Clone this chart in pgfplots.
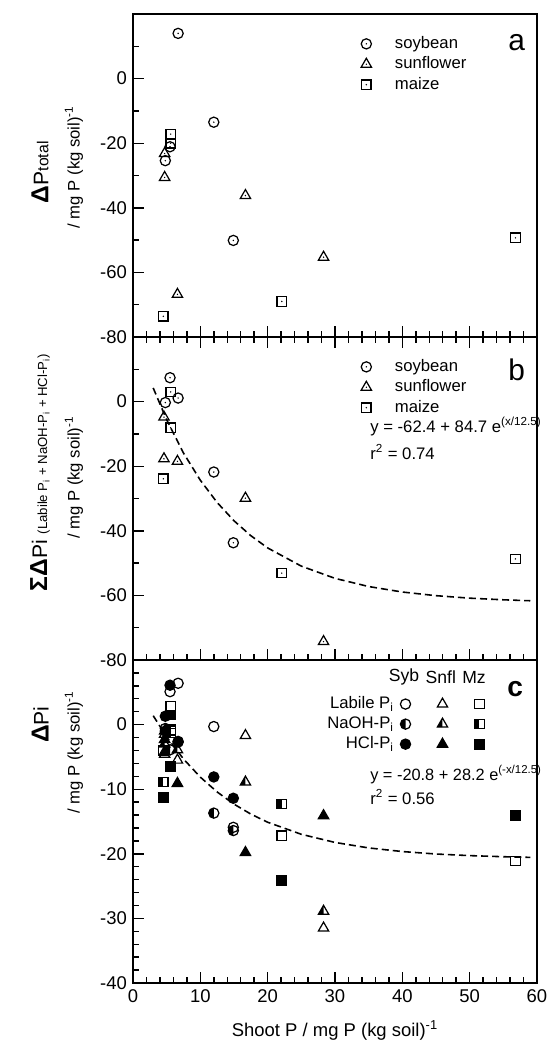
\documentclass[border=0pt]{standalone}
\usepackage{fontspec}
\setmainfont{Liberation Sans}
\usepackage{pgfplots}
\pgfplotsset{compat=1.18}

% open marks with a centre dot (panels a, b)
\pgfdeclareplotmark{dcirc}{%
  \pgfpathcircle{\pgfpointorigin}{\pgfplotmarksize}\pgfusepathqstroke
  \pgfpathcircle{\pgfpointorigin}{0.45pt}\pgfusepathqfill}
\pgfdeclareplotmark{dtri}{%
  \pgfpathmoveto{\pgfqpoint{0pt}{\pgfplotmarksize}}%
  \pgfpathlineto{\pgfqpointpolar{-30}{\pgfplotmarksize}}%
  \pgfpathlineto{\pgfqpointpolar{210}{\pgfplotmarksize}}%
  \pgfpathclose\pgfusepathqstroke
  \pgfpathcircle{\pgfpointorigin}{0.45pt}\pgfusepathqfill}
\pgfdeclareplotmark{dsq}{%
  \pgfpathrectangle{\pgfqpoint{-\pgfplotmarksize}{-\pgfplotmarksize}}{\pgfqpoint{2\pgfplotmarksize}{2\pgfplotmarksize}}\pgfusepathqstroke
  \pgfpathcircle{\pgfpointorigin}{0.45pt}\pgfusepathqfill}
% half filled marks (panel c, NaOH-Pi)
\pgfdeclareplotmark{hcirc}{%
  \pgfpathmoveto{\pgfqpoint{0pt}{\pgfplotmarksize}}%
  \pgfpatharc{90}{270}{\pgfplotmarksize}%
  \pgfpathclose\pgfusepathqfill
  \pgfpathcircle{\pgfpointorigin}{\pgfplotmarksize}\pgfusepathqstroke}
\pgfdeclareplotmark{htri}{%
  \pgfpathmoveto{\pgfqpoint{0pt}{\pgfplotmarksize}}%
  \pgfpathlineto{\pgfqpointpolar{210}{\pgfplotmarksize}}%
  \pgfpathlineto{\pgfqpoint{0pt}{-0.5\pgfplotmarksize}}%
  \pgfpathclose\pgfusepathqfill
  \pgfpathmoveto{\pgfqpoint{0pt}{\pgfplotmarksize}}%
  \pgfpathlineto{\pgfqpointpolar{-30}{\pgfplotmarksize}}%
  \pgfpathlineto{\pgfqpointpolar{210}{\pgfplotmarksize}}%
  \pgfpathclose\pgfusepathqstroke}
\pgfdeclareplotmark{hsq}{%
  \pgfpathrectangle{\pgfqpoint{-\pgfplotmarksize}{-\pgfplotmarksize}}{\pgfqpoint{\pgfplotmarksize}{2\pgfplotmarksize}}\pgfusepathqfill
  \pgfpathrectangle{\pgfqpoint{-\pgfplotmarksize}{-\pgfplotmarksize}}{\pgfqpoint{2\pgfplotmarksize}{2\pgfplotmarksize}}\pgfusepathqstroke}

\pgfplotsset{
  ppanel/.style={
    scale only axis, width=8.08cm, height=6.46cm,
    xmin=0, xmax=60, xtick={0,10,...,60}, minor x tick num=4,
    tick align=inside, ytick pos=left,
    major tick length=0.22cm, minor tick length=0.12cm,
    tick style={black, line width=0.8pt},
    axis line style={black, line width=1.1pt},
    tick label style={font=\fontsize{10.5}{12}\selectfont},
    /pgf/number format/assume math mode=true,
    clip=false,
  },
  pt/.style={only marks, line width=0.7pt, mark options={solid, draw=black, fill=black}},
  fitline/.style={black, line width=0.9pt, dash pattern=on 4pt off 2.3pt, forget plot},
  legab/.style={legend image code/.code={\path (0cm,0cm) (0.86cm,0cm);\draw[##1] plot coordinates {(0.3cm,0cm)};}},
  legc/.style={legend image code/.code={\path (0cm,0cm) (0.68cm,0cm);\draw[##1] plot coordinates {(0.22cm,0cm)};}},
  abstyle/.style={legend style={at={(axis description cs:0.525,0.944)}, anchor=north west, draw=none, fill=none,
    row sep=2.6pt, nodes={inner sep=0pt, text height=7pt, text depth=2pt, font=\fontsize{9.5}{11}\selectfont}},
    legend cell align=left},
}

\begin{document}
\begin{tikzpicture}
% ---- panel a
\begin{axis}[ppanel, abstyle, name=a, at={(0,0)}, anchor=south west,
  ymin=-80, ymax=20, ytick={-80,-60,...,0}, minor ytick={-70,-50,...,10},
  xtick pos=bottom, xticklabels=\empty]
\addplot[pt, mark=dcirc, mark size=2.9pt, legab] coordinates {
  (4.8,-25.4) (5.5,-21.1) (6.7,14.0) (12.0,-13.5) (14.9,-50.1)};
\addlegendentry{soybean}
\addplot[pt, mark=dtri, mark size=3.4pt, legab] coordinates {
  (4.7,-23.2) (4.7,-30.6) (6.6,-66.8) (16.7,-36.2) (28.3,-55.3)};
\addlegendentry{sunflower}
\addplot[pt, mark=dsq, mark size=2.7pt, legab] coordinates {
  (4.5,-73.6) (5.6,-17.2) (5.6,-20.0) (22.1,-69.0) (56.8,-49.3)};
\addlegendentry{maize}
\node[font=\fontsize{17}{20}\selectfont] at (axis description cs:0.95,0.91) {a};
\node[rotate=90] at (axis description cs:-0.23,0.51)
  {\fontsize{14}{16}\selectfont\textbf{Δ}\fontsize{12}{14}\selectfont P\fontsize{9}{10}\selectfont total};
\node[rotate=90, font=\fontsize{9.5}{11}\selectfont] at (axis description cs:-0.146,0.526)
  {/ mg P (kg soil)\textsuperscript{-1}};
\end{axis}
% ---- panel b
\begin{axis}[ppanel, abstyle, name=b, at={(a.south west)}, anchor=north west,
  ymin=-80, ymax=20, ytick={-80,-60,...,0}, minor ytick={-70,-50,...,10},
  xtick pos=both, xticklabels=\empty]
\addplot[pt, mark=dcirc, mark size=2.9pt, legab] coordinates {
  (4.8,-0.3) (5.5,7.4) (6.7,1.1) (12.0,-21.8) (14.9,-43.7)};
\addlegendentry{soybean}
\addplot[pt, mark=dtri, mark size=3.4pt, legab] coordinates {
  (4.6,-4.8) (4.6,-17.7) (6.6,-18.5) (16.7,-29.9) (28.3,-74.3)};
\addlegendentry{sunflower}
\addplot[pt, mark=dsq, mark size=2.7pt, legab] coordinates {
  (4.5,-23.9) (5.6,3.0) (5.6,-8.1) (22.1,-53.1) (56.8,-48.7)};
\addlegendentry{maize}
\addplot[fitline] coordinates {
  (3,4.23) (5,-5.62) (7.5,-15.92) (10,-24.34) (12.5,-31.24) (15,-36.89)
  (17.5,-41.51) (20,-45.30) (25,-50.94) (30,-54.72) (35,-57.25)
  (40,-58.95) (45,-60.08) (50,-60.85) (55,-61.36) (59,-61.65)};
\node[font=\fontsize{17}{20}\selectfont] at (axis description cs:0.95,0.898) {b};
\node[anchor=west, font=\fontsize{9.5}{11}\selectfont] at (axis description cs:0.572,0.722)
  {y = -62.4 + 84.7 e\textsuperscript{(x/12.5)}};
\node[anchor=west, font=\fontsize{9.5}{11}\selectfont] at (axis description cs:0.572,0.645)
  {r\textsuperscript{2} = 0.74};
\node[rotate=90] at (axis description cs:-0.23,0.58)
  {\fontsize{14}{16}\selectfont\textbf{ΣΔ}\fontsize{12}{14}\selectfont Pi \fontsize{7.5}{9}\selectfont(Labile P\textsubscript{i} + NaOH-P\textsubscript{i} + HCl-P\textsubscript{i})};
\node[rotate=90, font=\fontsize{9.5}{11}\selectfont] at (axis description cs:-0.146,0.565)
  {/ mg P (kg soil)\textsuperscript{-1}};
\end{axis}
% ---- panel c
\begin{axis}[ppanel, name=c, at={(b.south west)}, anchor=north west,
  ymin=-40, ymax=10, ytick={-40,-30,...,0}, minor ytick={-38,-36,...,8},
  xtick pos=bottom,
  xlabel={Shoot P / mg P (kg soil)\textsuperscript{-1}},
  xlabel style={font=\fontsize{10.5}{12}\selectfont, at={(axis description cs:0.5,-0.146)}, anchor=center},
  legend plot pos=right,
  legend style={at={(axis description cs:0.93,0.90)}, anchor=north east, draw=none, fill=none,
    legend columns=3, row sep=2.4pt,
    nodes={inner sep=0pt, text height=7pt, text depth=2pt, font=\fontsize{9.5}{11}\selectfont}},
  legend cell align=right]
% labile Pi
\addplot[pt, mark=o, mark size=2.9pt, legc] coordinates {
  (4.8,-0.6) (5.5,5.1) (6.7,6.4) (12.0,-0.3) (14.9,-15.9)};
\addlegendentry{Labile P\textsubscript{i}}
\addplot[pt, mark=triangle, mark size=3.4pt, legc] coordinates {
  (4.7,-1.5) (4.7,-4.6) (6.6,-5.5) (16.7,-1.7) (28.3,-31.5)};
\addlegendentry{}
\addplot[pt, mark=square, mark size=2.7pt, legc] coordinates {
  (4.5,-4.0) (5.6,2.8) (5.6,-1.0) (22.1,-17.2) (56.8,-21.1)};
\addlegendentry{}
% NaOH-Pi
\addplot[pt, mark=hcirc, mark size=2.9pt, legc] coordinates {
  (4.8,-1.0) (5.5,-3.9) (6.7,-2.6) (12.0,-13.7) (14.9,-16.4)};
\addlegendentry{NaOH-P\textsubscript{i}}
\addplot[pt, mark=htri, mark size=3.4pt, legc] coordinates {
  (4.7,-1.0) (4.7,-3.0) (6.6,-3.9) (16.7,-8.9) (28.3,-28.9)};
\addlegendentry{}
\addplot[pt, mark=hsq, mark size=2.7pt, legc] coordinates {
  (4.5,-8.9) (5.6,-0.8) (5.6,-1.3) (22.1,-12.3) (56.8,-14.1)};
\addlegendentry{}
% HCl-Pi
\addplot[pt, mark=*, mark size=2.9pt, legc] coordinates {
  (4.8,1.3) (5.5,6.1) (6.7,-2.7) (12.0,-8.1) (14.9,-11.4)};
\addlegendentry{HCl-P\textsubscript{i}}
\addplot[pt, mark=triangle*, mark size=3.4pt, legc] coordinates {
  (4.7,-2.3) (4.7,-4.2) (6.6,-9.1) (16.7,-19.8) (28.3,-14.1)};
\addlegendentry{}
\addplot[pt, mark=square*, mark size=2.7pt, legc] coordinates {
  (4.5,-11.3) (5.6,1.5) (5.6,-6.5) (22.1,-24.1) (56.8,-14.1)};
\addlegendentry{}
\addplot[fitline] coordinates {
  (3,1.38) (5,-1.90) (7.5,-5.32) (10,-8.13) (12.5,-10.43) (15,-12.31)
  (17.5,-13.85) (20,-15.11) (25,-16.98) (30,-18.24) (35,-19.09)
  (40,-19.65) (45,-20.03) (50,-20.28) (55,-20.45) (59,-20.55)};
\node[font=\fontsize{10}{12}\selectfont] at (axis description cs:0.671,0.947) {Syb};
\node[font=\fontsize{10}{12}\selectfont] at (axis description cs:0.762,0.947) {Snfl};
\node[font=\fontsize{10}{12}\selectfont] at (axis description cs:0.844,0.947) {Mz};
\node[font=\fontsize{16}{19}\selectfont\bfseries] at (axis description cs:0.946,0.91) {c};
\node[anchor=west, font=\fontsize{9.3}{11}\selectfont] at (axis description cs:0.572,0.646)
  {y = -20.8 + 28.2 e\textsuperscript{(-x/12.5)}};
\node[anchor=west, font=\fontsize{9.5}{11}\selectfont] at (axis description cs:0.572,0.575)
  {r\textsuperscript{2} = 0.56};
\node[rotate=90] at (axis description cs:-0.23,0.80)
  {\fontsize{14}{16}\selectfont\textbf{Δ}\fontsize{12}{14}\selectfont Pi};
\node[rotate=90, font=\fontsize{9.5}{11}\selectfont] at (axis description cs:-0.146,0.714)
  {/ mg P (kg soil)\textsuperscript{-1}};
\end{axis}
\path ([xshift=-2.66cm,yshift=-1.34cm]c.south west) rectangle ([xshift=0.26cm,yshift=0.28cm]a.north east);
\end{tikzpicture}
\end{document}
